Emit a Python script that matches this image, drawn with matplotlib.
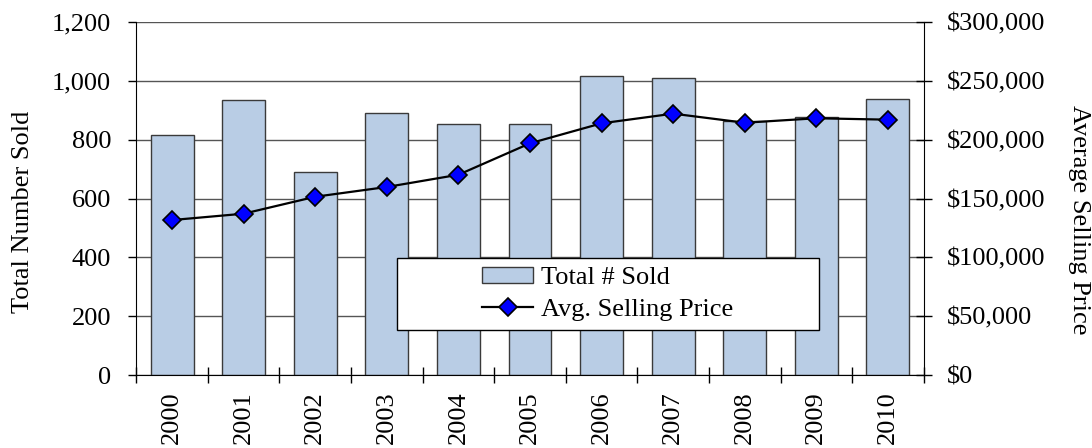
import matplotlib
matplotlib.use("Agg")
import matplotlib.pyplot as plt
from matplotlib.patches import Rectangle, Patch
from matplotlib.lines import Line2D
from matplotlib.ticker import FuncFormatter, MultipleLocator

years = ["2000", "2001", "2002", "2003", "2004", "2005", "2006", "2007", "2008", "2009", "2010"]
total_sold = [815, 935, 691, 892, 854, 853, 1015, 1009, 865, 876, 937]
avg_price = [131700, 137100, 151500, 159800, 170200, 196900, 213900, 222100, 214400, 218200, 217000]

plt.rcParams["font.family"] = ["Liberation Serif", "DejaVu Serif"]
plt.rcParams["font.size"] = 19

fig = plt.figure(figsize=(10.92, 4.48), dpi=100)
ax = fig.add_axes([0.1248, 0.1629, 0.7211, 0.788])
ax2 = ax.twinx()

x = list(range(len(years)))

# bars
ax.bar(x, total_sold, width=0.6, color="#B9CDE5", edgecolor="#3a3a3a", linewidth=1.0, zorder=2)
ax.set_xlim(-0.5, len(years) - 0.5)
ax.set_ylim(0, 1200)
ax.yaxis.set_major_locator(MultipleLocator(200))
ax.yaxis.set_major_formatter(FuncFormatter(lambda v, p: f"{int(v):,}"))
ax.grid(axis="y", color="#555555", linewidth=1.0, zorder=0)
ax.set_axisbelow(True)

ax.set_xticks(x)
ax.set_xticklabels(years, rotation=90)
ax.set_xticks([i - 0.5 for i in range(len(years) + 1)], minor=True)
ax.tick_params(axis="x", which="major", length=0, pad=12)
ax.tick_params(axis="x", which="minor", direction="inout", length=11, width=1)
ax.tick_params(axis="y", direction="out", length=6, width=1, pad=12)

for s in ["top", "right"]:
    ax.spines[s].set_visible(False)

ax.set_ylabel("Total Number Sold")
ax.yaxis.set_label_coords(-0.1295, 0.463)

# line
ax2.plot(x, avg_price, color="black", linewidth=1.6, marker="D", markersize=9.5,
         markerfacecolor="#0000FF", markeredgecolor="black", markeredgewidth=1.2, zorder=3)
ax2.set_ylim(0, 300000)
ax2.yaxis.set_major_locator(MultipleLocator(50000))
ax2.yaxis.set_major_formatter(FuncFormatter(lambda v, p: f"${int(v):,}"))
ax2.tick_params(axis="y", direction="inout", length=11, width=1, pad=11)
for s in ["top", "left", "bottom"]:
    ax2.spines[s].set_visible(False)
ax2.set_ylabel("Average Selling Price", rotation=270)
ax2.yaxis.set_label_coords(1.211, 0.439)

# legend box
box = Rectangle((0.331, 0.1275), 0.5356, 0.2047, transform=ax2.transAxes,
                facecolor="white", edgecolor="black", linewidth=1.0, zorder=10)
ax2.add_patch(box)
handles = [
    Patch(facecolor="#B9CDE5", edgecolor="#3a3a3a", linewidth=1.0),
    Line2D([], [], color="black", linewidth=1.6, marker="D", markersize=9.5,
           markerfacecolor="#0000FF", markeredgecolor="black", markeredgewidth=1.2),
]
leg = ax2.legend(handles, ["Total # Sold", "Avg. Selling Price"], loc="center",
                 bbox_to_anchor=(0.331 + 0.5356 / 2, 0.1275 + 0.2047 / 2),
                 frameon=False, handlelength=1.95, handletextpad=0.3,
                 labelspacing=0.35, handleheight=0.55, borderpad=0)
leg.set_zorder(11)

fig.savefig("out.png", dpi=100)
